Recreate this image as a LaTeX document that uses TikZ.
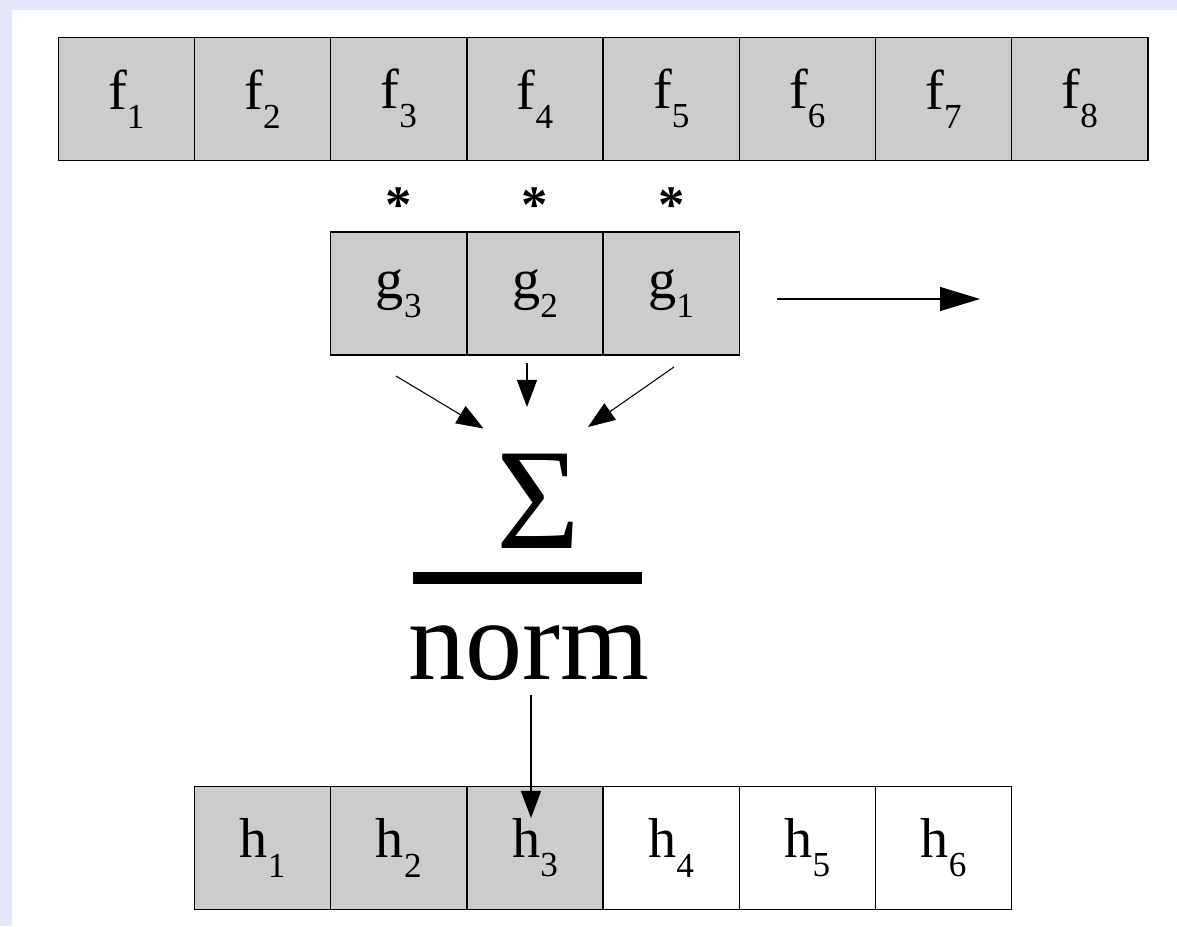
\documentclass[tikz,border=0pt]{standalone}
\usepackage{fontspec}
\setmainfont{Liberation Serif}
\usetikzlibrary{arrows.meta,positioning}

\definecolor{pagebg}{RGB}{230,230,250}
\definecolor{cellgray}{RGB}{204,204,204}

% letter with a lowered index
\newcommand{\idx}[2]{#1\raisebox{-0.34em}{\fontsize{20}{20}\selectfont #2}}

\tikzset{
  cell/.style={draw, fill=cellgray, line width=0.7pt, minimum width=2.724cm,
    minimum height=2.46cm, inner sep=0pt, outer sep=0pt,
    font=\fontsize{32}{36}\selectfont},
  empty cell/.style={cell, fill=white},
  small tip/.style={-{Triangle[length=0.54cm,width=0.4cm]}, line width=0.6pt},
  big tip/.style={-{Triangle[length=0.8cm,width=0.48cm]}, line width=0.6pt},
}

\begin{document}
\begin{tikzpicture}
\useasboundingbox (0,0) rectangle (23.54,18.52);
\fill[pagebg] (0,0) rectangle (23.54,18.52);
\fill[white] (0.24,0) rectangle (23.54,18.32);

% input signal
\foreach \i in {1,...,8}
  \node[cell] (f\i) at ({1.166+(\i-0.5)*2.724},16.544) {\idx{f}{\i}};

% reversed kernel with the products above it
\foreach \i/\k in {3/3,4/2,5/1}{
  \node[cell] (g\k) at ({1.166+(\i-0.5)*2.724},12.65) {\idx{g}{\k}};
  \node[inner sep=0pt, font=\fontsize{30}{30}\selectfont\bfseries] (m\k) at ({1.166+(\i-0.5)*2.724},14.42) {*};
}

% kernel slides along
\coordinate (slide a) at (15.54,12.54);
\coordinate (slide b) at (19.6,12.54);
\draw[big tip] (slide a) -- (slide b);

% sum over the products, divided by the norm
\node[inner sep=0pt, font=\fontsize{82}{82}\selectfont] (sum) at (10.76,8.5) {Σ};
\fill (8.26,6.84) rectangle (12.84,7.08);
\node[inner sep=0pt, anchor=base, font=\fontsize{65}{65}\selectfont] (norm) at (10.58,4.92) {norm};

\coordinate (g3 out) at (7.92,11.0);
\coordinate (g2 out) at (10.54,11.26);
\coordinate (g1 out) at (13.48,11.18);
\coordinate (sum l) at (9.67,9.95);
\coordinate (sum m) at (10.54,10.38);
\coordinate (sum r) at (11.76,9.98);
\draw[small tip] (g3 out) -- (sum l);
\draw[small tip] (g2 out) -- (sum m);
\draw[small tip] (g1 out) -- (sum r);

% output signal
\foreach \j in {1,...,6}{
  \ifnum\j<4
    \node[cell] (h\j) at ({1.166+(\j+0.5)*2.724},1.56) {\idx{h}{\j}};
  \else
    \node[empty cell] (h\j) at ({1.166+(\j+0.5)*2.724},1.56) {\idx{h}{\j}};
  \fi
}

\coordinate (norm out) at (10.62,4.62);
\coordinate (h3 in) at (10.62,2.16);
\draw[small tip] (norm out) -- (h3 in);
\end{tikzpicture}
\end{document}
